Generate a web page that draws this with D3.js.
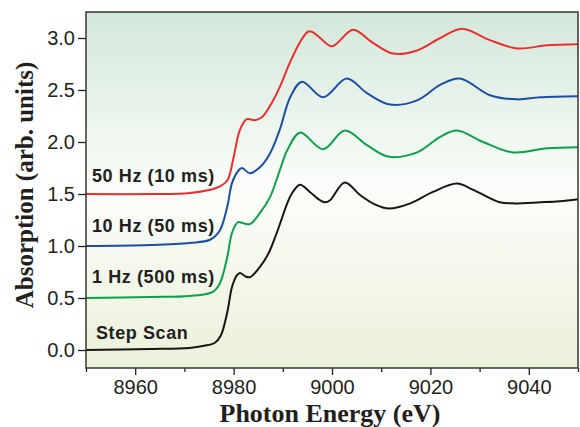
<!DOCTYPE html>
<html>
<head>
<meta charset="utf-8">
<script src="https://cdn.jsdelivr.net/npm/d3@7"></script>
<style>
  body { margin: 0; background: #fff; }
  svg { display: block; }
  .tick text { font-family: "Liberation Sans", Arial, sans-serif; font-size: 20px; fill: #231f20; }
  .tick line { stroke: #231f20; stroke-width: 1.3; }
  .label { font-family: "Liberation Sans", Arial, sans-serif; font-weight: bold; font-size: 18px; fill: #231f20; letter-spacing: 0.6px; }
  .title { font-family: "Liberation Serif", "Times New Roman", serif; font-weight: bold; font-size: 26px; fill: #231f20; }
</style>
</head>
<body>
<script>
// Width and height
var w = 580;
var h = 427;
var margin = {top: 12, right: 2, bottom: 59, left: 86};

// spectra: [energy (eV), absorption before offset]
var stepScan = [[8950,0.00],[8963,0.01],[8971,0.02],[8974,0.04],[8976.2,0.07],[8977.4,0.14],[8978.7,0.36],[8979.7,0.61],[8980.7,0.72],[8981.3,0.74],[8982.3,0.71],[8983.3,0.70],[8985.2,0.79],[8987,0.92],[8988.8,1.13],[8990.9,1.41],[8991.9,1.51],[8993.5,1.59],[8995.5,1.52],[8997.6,1.44],[8998.6,1.42],[8999.6,1.44],[9002.6,1.61],[9005.7,1.49],[9008.7,1.40],[9011.6,1.36],[9015.9,1.41],[9020.5,1.52],[9025.4,1.60],[9028.7,1.54],[9034.1,1.42],[9036.8,1.41],[9042.3,1.42],[9046.3,1.43],[9050,1.45]];
var hz1 = [[8950,0.00],[8963,0.01],[8971.1,0.02],[8975.8,0.06],[8977.2,0.14],[8978.7,0.39],[8979.7,0.63],[8980.9,0.73],[8981.9,0.72],[8983.3,0.71],[8985.4,0.82],[8987.4,0.97],[8989.4,1.23],[8990.9,1.42],[8993.5,1.59],[8998.2,1.43],[9002.6,1.61],[9007.1,1.47],[9011.4,1.36],[9017.3,1.40],[9022.0,1.55],[9025.4,1.61],[9030.7,1.50],[9036.8,1.40],[9043.7,1.44],[9050,1.45]];
var hz10 = [[8950,0.00],[8963,0.01],[8971.1,0.03],[8975.2,0.06],[8977.2,0.15],[8978.7,0.375],[8979.7,0.61],[8980.9,0.72],[8981.7,0.75],[8983.3,0.70],[8985.4,0.76],[8987.4,0.89],[8989.4,1.12],[8991.5,1.43],[8993.9,1.58],[8998.2,1.43],[9003.0,1.61],[9007.1,1.47],[9011.8,1.36],[9017.3,1.40],[9022.0,1.55],[9026.0,1.61],[9032.1,1.45],[9037.6,1.41],[9042.3,1.43],[9050,1.44]];
var hz50 = [[8950,0.00],[8963,0.00],[8971.1,0.01],[8976.6,0.06],[8978.7,0.13],[8979.9,0.33],[8981.3,0.62],[8982.7,0.72],[8984.3,0.71],[8985.8,0.74],[8987.8,0.88],[8989.4,1.03],[8991.5,1.27],[8993.5,1.46],[8995.1,1.56],[8995.9,1.56],[8997.6,1.50],[9000.0,1.42],[9004.3,1.58],[9008.1,1.46],[9012.4,1.35],[9017.3,1.38],[9022.0,1.50],[9026.4,1.59],[9032.1,1.48],[9037.6,1.40],[9043.7,1.43],[9050,1.44]];

var seriesNames = ["Step Scan", "1 Hz (500 ms)", "10 Hz (50 ms)", "50 Hz (10 ms)"];
var seriesData = [stepScan, hz1, hz10, hz50];
var offsets = [0, 0.5, 1.0, 1.5];
var colors = ["#1c1414", "#0da04b", "#1d4ea6", "#ea2e2e"];
var labelY = [0.105, 0.645, 1.135, 1.615]; // label baselines, data units

var yTicks = [0, 0.5, 1.0, 1.5, 2.0, 2.5, 3.0];
var xTicks = [8960, 8980, 9000, 9020, 9040];
var xMinor = [8950, 8970, 8990, 9010, 9030, 9050];

var x = d3.scaleLinear().domain([8950, 9050]).range([margin.left, w - margin.right]);
var y = d3.scaleLinear().domain([-0.173, 3.25]).range([h - margin.bottom, margin.top]);

var svg = d3.select("body").append("svg")
    .attr("width", w)
    .attr("height", h);

// background gradient
var grad = svg.append("defs").append("linearGradient")
    .attr("id", "bg")
    .attr("x1", 0).attr("y1", 0).attr("x2", 0).attr("y2", 1);
grad.append("stop").attr("offset", "0%").attr("stop-color", "#d3e8da");
grad.append("stop").attr("offset", "50%").attr("stop-color", "#fbfdfa");
grad.append("stop").attr("offset", "100%").attr("stop-color", "#ebf1da");

svg.append("rect")
    .attr("x", x.range()[0])
    .attr("y", y.range()[1])
    .attr("width", x.range()[1] - x.range()[0])
    .attr("height", y.range()[0] - y.range()[1])
    .attr("fill", "url(#bg)");

// axes
svg.append("g")
    .attr("transform", "translate(" + margin.left + ",0)")
    .call(d3.axisLeft(y).tickValues(yTicks).tickFormat(d3.format(".1f")).tickSize(8).tickPadding(3))
    .call(g => g.select(".domain").remove());

svg.append("g")
    .attr("transform", "translate(0," + (h - margin.bottom) + ")")
    .call(d3.axisBottom(x).tickValues(xTicks).tickFormat(d3.format("d")).tickSize(7).tickPadding(5))
    .call(g => g.select(".domain").remove());

svg.append("g")
    .attr("transform", "translate(0," + (h - margin.bottom) + ")")
    .call(d3.axisBottom(x).tickValues(xMinor).tickFormat("").tickSize(4))
    .call(g => g.select(".domain").remove());

// spectra
var line = d3.line()
    .x(d => x(d[0]))
    .y(d => y(d[1]))
    .curve(d3.curveCatmullRom.alpha(0.5));

var plot = svg.append("g").attr("class", "spectra");

seriesData.forEach((data, i) => {
    plot.append("path")
        .datum(data.map(d => [d[0], d[1] + offsets[i]]))
        .attr("d", line)
        .attr("fill", "none")
        .attr("stroke", colors[i])
        .attr("stroke-width", 2);
});

plot.selectAll(".label")
    .data(seriesNames)
    .enter()
    .append("text")
    .attr("class", "label")
    .attr("x", (d, i) => i == 0 ? 96 : 92)
    .attr("y", (d, i) => y(labelY[i]))
    .text(d => d);

// frame
svg.append("rect")
    .attr("x", x.range()[0])
    .attr("y", y.range()[1])
    .attr("width", x.range()[1] - x.range()[0])
    .attr("height", y.range()[0] - y.range()[1])
    .attr("fill", "none")
    .attr("stroke", "#3a3432")
    .attr("stroke-width", 1.5);

// axis titles
svg.append("text")
    .attr("class", "title")
    .attr("text-anchor", "middle")
    .attr("x", 330)
    .attr("y", 422)
    .text("Photon Energy (eV)");

svg.append("text")
    .attr("class", "title")
    .attr("text-anchor", "middle")
    .style("font-size", "25px")
    .attr("transform", "translate(33,185) rotate(-90)")
    .text("Absorption (arb. units)");
</script>
</body>
</html>
